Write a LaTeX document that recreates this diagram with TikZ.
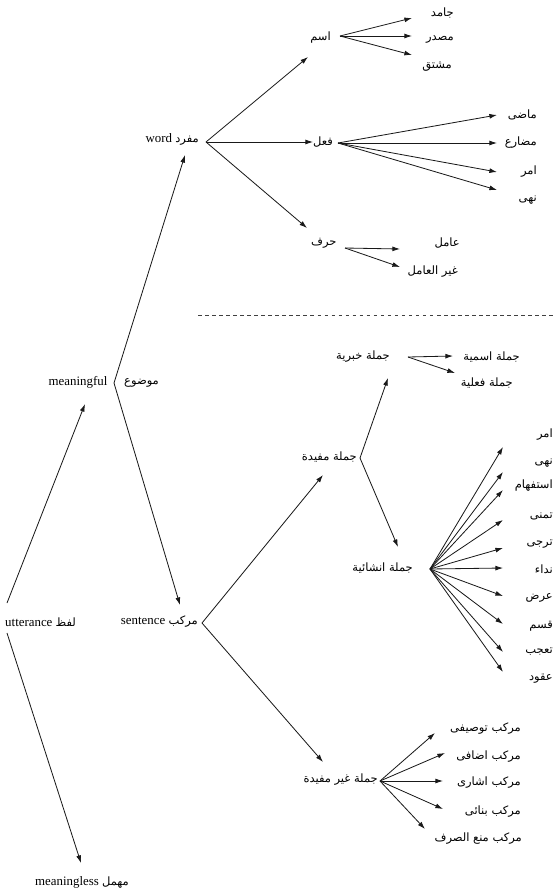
\documentclass[tikz,border=0pt]{standalone}
\usepackage{fontspec}
\setmainfont{Liberation Serif}
\newfontfamily\arabicfont[Script=Arabic]{DejaVu Sans}
\usetikzlibrary{arrows.meta}
\TeXXeTstate=1
\newcommand{\artext}[1]{{\arabicfont\fontsize{9.8}{11}\selectfont\beginR #1\endR}}

\begin{document}
\begin{tikzpicture}[x=0.03cm, y=-0.03cm,
    arr/.style={-{Latex[length=6.5pt,width=4.2pt]}, line width=0.7pt, draw=black!90},
    sep/.style={dashed, line width=0.5pt, draw=black!75},
    lbl/.style={inner sep=0pt, text=black, font=\fontsize{11}{13}\selectfont}]
    \useasboundingbox (0,0) rectangle (555,894);

    % Utterance and its two kinds
    \node[lbl, anchor=west] (utt) at (5,622) {utterance \artext{لفظ}};
    \node[lbl] (mful) at (78,382) {meaningful};
    \node[lbl] (mless) at (82,882) {meaningless \artext{مهمل}};
    \coordinate (utt_up) at (7,603);
    \coordinate (utt_dn) at (7,633);
    \coordinate (mful_in) at (85,404);
    \coordinate (mless_in) at (81,863);
    \draw[arr] (utt_up) -- (mful_in);
    \draw[arr] (utt_dn) -- (mless_in);

    % Meaningful: word and sentence
    \node[lbl, anchor=west] (mawdu) at (124,383) {\artext{موضوع}};
    \node[lbl, anchor=east] (word) at (199,139) {word \artext{مفرد}};
    \node[lbl, anchor=east] (sent) at (198,622) {sentence \artext{مركب}};
    \coordinate (mawdu_vtx) at (114,383);
    \coordinate (word_in) at (185,155);
    \coordinate (sent_in) at (180,605);
    \draw[arr] (mawdu_vtx) -- (word_in);
    \draw[arr] (mawdu_vtx) -- (sent_in);

    % Word: noun, verb, particle
    \node[lbl, anchor=east] (ism) at (331,38) {\artext{اسم}};
    \node[lbl, anchor=west] (fil) at (313,142) {\artext{فعل}};
    \node[lbl, anchor=west] (harf) at (311,243) {\artext{حرف}};
    \coordinate (word_vtx) at (206,142);
    \coordinate (ism_in) at (308,57);
    \coordinate (harf_in) at (307,228);
    \draw[arr] (word_vtx) -- (ism_in);
    \draw[arr] (word_vtx) -- (fil);
    \draw[arr] (word_vtx) -- (harf_in);

    % Noun
    \node[lbl, anchor=east] (jamid) at (454,13) {\artext{جامد}};
    \node[lbl, anchor=east] (masdar) at (454,40) {\artext{مصدر}};
    \node[lbl, anchor=east] (mushtaq) at (452,67) {\artext{مشتق}};
    \coordinate (ism_vtx) at (340,36);
    \coordinate (jamid_in) at (412,18);
    \coordinate (masdar_in) at (412,36);
    \coordinate (mushtaq_in) at (412,55);
    \draw[arr] (ism_vtx) -- (jamid_in);
    \draw[arr] (ism_vtx) -- (masdar_in);
    \draw[arr] (ism_vtx) -- (mushtaq_in);

    % Verb
    \node[lbl, anchor=east] (madi) at (537,115) {\artext{ماضى}};
    \node[lbl, anchor=east] (mudari) at (537,143) {\artext{مضارع}};
    \node[lbl, anchor=east] (amr) at (537,172) {\artext{امر}};
    \node[lbl, anchor=east] (nahy) at (537,200) {\artext{نهى}};
    \coordinate (fil_vtx) at (338,143);
    \coordinate (madi_in) at (497,115);
    \coordinate (mudari_in) at (497,143);
    \coordinate (amr_in) at (497,172);
    \coordinate (nahy_in) at (497,190);
    \draw[arr] (fil_vtx) -- (madi_in);
    \draw[arr] (fil_vtx) -- (mudari_in);
    \draw[arr] (fil_vtx) -- (amr_in);
    \draw[arr] (fil_vtx) -- (nahy_in);

    % Particle
    \node[lbl, anchor=east] (amil) at (460,243) {\artext{عامل}};
    \node[lbl, anchor=east] (ghamil) at (458,272) {\artext{غير العامل}};
    \coordinate (harf_vtx) at (345,248);
    \coordinate (amil_in) at (400,249);
    \coordinate (ghamil_in) at (400,267);
    \draw[arr] (harf_vtx) -- (amil_in);
    \draw[arr] (harf_vtx) -- (ghamil_in);

    % Dashed separator
    \coordinate (sep_l) at (198,315);
    \coordinate (sep_r) at (555,315);
    \draw[sep] (sep_l) -- (sep_r);

    % Sentence: complete and incomplete
    \node[lbl, anchor=east] (mufida) at (357,457) {\artext{جملة مفيدة}};
    \node[lbl, anchor=east] (ghm) at (378,780) {\artext{جملة غير مفيدة}};
    \coordinate (sent_vtx) at (202,623);
    \coordinate (mufida_in) at (323,475);
    \coordinate (ghm_in) at (323,762);
    \draw[arr] (sent_vtx) -- (mufida_in);
    \draw[arr] (sent_vtx) -- (ghm_in);

    % Complete sentence: informative and performative
    \node[lbl, anchor=east] (khabar) at (390,357) {\artext{جملة خبرية}};
    \node[lbl, anchor=east] (insha) at (413,568) {\artext{جملة انشائية}};
    \coordinate (mufida_vtx) at (360,458);
    \coordinate (khabar_in) at (388,378);
    \coordinate (insha_in) at (398,547);
    \draw[arr] (mufida_vtx) -- (khabar_in);
    \draw[arr] (mufida_vtx) -- (insha_in);

    % Informative
    \node[lbl, anchor=east] (ismiyya) at (520,357) {\artext{جملة اسمية}};
    \node[lbl, anchor=east] (filiyya) at (513,383) {\artext{جملة فعلية}};
    \coordinate (khabar_vtx) at (408,357);
    \coordinate (ismiyya_in) at (453,356);
    \coordinate (filiyya_in) at (455,373);
    \draw[arr] (khabar_vtx) -- (ismiyya_in);
    \draw[arr] (khabar_vtx) -- (filiyya_in);

    % Performative
    \node[lbl, anchor=east] (i_amr) at (553,435) {\artext{امر}};
    \node[lbl, anchor=east] (i_nahy) at (553,463) {\artext{نهى}};
    \node[lbl, anchor=east] (i_istifham) at (553,486) {\artext{استفهام}};
    \node[lbl, anchor=east] (i_tamanni) at (553,516) {\artext{تمنى}};
    \node[lbl, anchor=east] (i_tarajji) at (553,544) {\artext{ترجى}};
    \node[lbl, anchor=east] (i_nida) at (553,569) {\artext{نداء}};
    \node[lbl, anchor=east] (i_ard) at (553,598) {\artext{عرض}};
    \node[lbl, anchor=east] (i_qasam) at (553,626) {\artext{قسم}};
    \node[lbl, anchor=east] (i_taajjub) at (553,652) {\artext{تعجب}};
    \node[lbl, anchor=east] (i_uqud) at (553,679) {\artext{عقود}};
    \coordinate (insha_vtx) at (430,569);
    \coordinate (i_amr_in) at (503,447);
    \coordinate (i_nahy_in) at (503,472);
    \coordinate (i_istifham_in) at (503,490);
    \coordinate (i_tamanni_in) at (503,520);
    \coordinate (i_tarajji_in) at (503,548);
    \coordinate (i_nida_in) at (503,568);
    \coordinate (i_ard_in) at (503,596);
    \coordinate (i_qasam_in) at (503,624);
    \coordinate (i_taajjub_in) at (503,652);
    \coordinate (i_uqud_in) at (503,672);
    \draw[arr] (insha_vtx) -- (i_amr_in);
    \draw[arr] (insha_vtx) -- (i_nahy_in);
    \draw[arr] (insha_vtx) -- (i_istifham_in);
    \draw[arr] (insha_vtx) -- (i_tamanni_in);
    \draw[arr] (insha_vtx) -- (i_tarajji_in);
    \draw[arr] (insha_vtx) -- (i_nida_in);
    \draw[arr] (insha_vtx) -- (i_ard_in);
    \draw[arr] (insha_vtx) -- (i_qasam_in);
    \draw[arr] (insha_vtx) -- (i_taajjub_in);
    \draw[arr] (insha_vtx) -- (i_uqud_in);

    % Incomplete sentence: compounds
    \node[lbl, anchor=east] (tawsifi) at (521,729) {\artext{مركب توصيفى}};
    \node[lbl, anchor=east] (idafi) at (521,757) {\artext{مركب اضافى}};
    \node[lbl, anchor=east] (ishari) at (521,783) {\artext{مركب اشارى}};
    \node[lbl, anchor=east] (binai) at (521,812) {\artext{مركب بنائى}};
    \node[lbl, anchor=east] (mana) at (522,839) {\artext{مركب منع الصرف}};
    \coordinate (ghm_vtx) at (380,781);
    \coordinate (tawsifi_in) at (435,733);
    \coordinate (idafi_in) at (445,753);
    \coordinate (ishari_in) at (443,781);
    \coordinate (binai_in) at (443,809);
    \coordinate (mana_in) at (425,829);
    \draw[arr] (ghm_vtx) -- (tawsifi_in);
    \draw[arr] (ghm_vtx) -- (idafi_in);
    \draw[arr] (ghm_vtx) -- (ishari_in);
    \draw[arr] (ghm_vtx) -- (binai_in);
    \draw[arr] (ghm_vtx) -- (mana_in);
\end{tikzpicture}
\end{document}
